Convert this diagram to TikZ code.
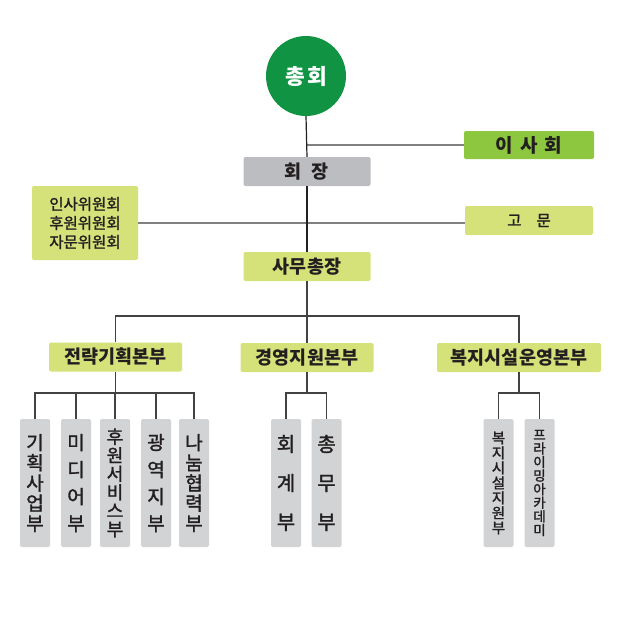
\documentclass[tikz,border=0pt]{standalone}
\usepackage{fontspec}
\setmainfont{Noto Sans CJK KR}
\newfontfamily\krmed{Noto Sans CJK KR}[FakeBold=1.6]
\definecolor{hqgreen}{RGB}{16,148,68}
\definecolor{boardgreen}{RGB}{141,198,63}
\definecolor{lightgreen}{RGB}{213,226,122}
\definecolor{headgray}{RGB}{188,189,192}
\definecolor{subgray}{RGB}{209,211,212}
\definecolor{inkblack}{RGB}{35,31,32}
\definecolor{linegray}{RGB}{128,128,128}

\begin{document}
\begin{tikzpicture}[x=1pt,y=1pt]
        \tikzstyle{every node}+=[inner sep=0pt, text=inkblack]
        \tikzset{
          topbox/.style={rounded corners=2pt, minimum height=29pt, font=\bfseries\fontsize{18.5}{20}\selectfont},
          subbox/.style={fill=subgray, rounded corners=2pt, minimum width=30pt, minimum height=128pt, align=center},
          spine/.style={draw=inkblack, line width=1.2pt},
          side/.style={draw=linegray, line width=1.8pt},
          tree/.style={draw=inkblack!85, line width=1.3pt}
        }
        \fill [white] (0,0) rectangle (624,-624);
        \useasboundingbox (0,0) rectangle (624,-624);
        % top
        \node [circle, fill=hqgreen, minimum size=80pt, text=white, font=\bfseries\fontsize{21.5}{24}\selectfont] (chonghoe) at (306,-76) {총\hspace{2pt}회};
        \node [topbox, fill=boardgreen, minimum width=130pt, minimum height=28pt, font=\bfseries\fontsize{19}{20}\selectfont] (isahoe) at (529,-145) {이\hspace{7pt}사\hspace{7pt}회};
        \node [topbox, fill=headgray, minimum width=127pt] (hoejang) at (307,-171.5) {회\hspace{10pt}장};
        \node [topbox, fill=lightgreen, minimum width=128pt, font=\krmed\fontsize{15.5}{16}\selectfont] (gomun) at (529,-220.5) {고\hspace{15pt}문};
        \node [fill=lightgreen, rounded corners=2pt, minimum width=106pt, minimum height=74pt, align=center, font=\krmed\fontsize{15.5}{19}\selectfont] (wiwon) at (85,-223) {인사위원회\\후원위원회\\자문위원회};
        \node [topbox, fill=lightgreen, minimum width=127pt] (samu) at (307,-266.5) {사무총장};
        % divisions
        \node [topbox, fill=lightgreen, minimum width=133pt] (jeollyak) at (115.5,-357) {전략기획본부};
        \node [topbox, fill=lightgreen, minimum width=133pt] (gyeongyeong) at (307,-357.5) {경영지원본부};
        \node [topbox, fill=lightgreen, minimum width=164pt] (bokji) at (519,-357.5) {복지시설운영본부};
        % departments
        \node [subbox, font=\krmed\fontsize{19}{20.2}\selectfont] (gihoek) at (35,-483) {기\\획\\사\\업\\부};
        \node [subbox, font=\krmed\fontsize{19}{27}\selectfont] (midia) at (76,-483) {미\\디\\어\\부};
        \node [subbox, font=\krmed\fontsize{18}{18.5}\selectfont] (huwon) at (115,-483) {후\\원\\서\\비\\스\\부};
        \node [subbox, font=\krmed\fontsize{19}{27}\selectfont] (gwangyeok) at (156,-483) {광\\역\\지\\부};
        \node [subbox, font=\krmed\fontsize{19}{20.2}\selectfont] (nanum) at (194,-483) {나\\눔\\협\\력\\부};
        \node [subbox, font=\krmed\fontsize{20}{39}\selectfont] (hoegye) at (286,-483) {회\\계\\부};
        \node [subbox, font=\krmed\fontsize{20}{39}\selectfont] (chongmu) at (326.5,-483) {총\\무\\부};
        \node [subbox, font=\krmed\fontsize{14.5}{15}\selectfont] (bokjisiseol) at (498.5,-483) {복\\지\\시\\설\\지\\원\\부};
        \node [subbox, font=\krmed\fontsize{13.5}{13.6}\selectfont] (priming) at (539.5,-483) {프\\라\\이\\밍\\아\\카\\데\\미};
        % connectors
        \draw [side] (isahoe.west) -- (isahoe.west -| chonghoe.south);
        \draw [side] (wiwon.east) -- (wiwon.east -| gomun.west);
        \draw [spine] (chonghoe.south) -- (hoejang.north);
        \draw [spine] (hoejang.south) -- (samu.north);
        \coordinate (bus) at (307,-316);
        \draw [tree] (samu.south) -- (bus);
        \draw [tree] (jeollyak.north) |- (bus) -| (bokji.north);
        \draw [tree] (bus) -- (gyeongyeong.north);
        \coordinate (jbus) at (115.5,-393);
        \draw [tree] (jeollyak.south) -- (jbus);
        \draw [tree] (gihoek.north) |- (jbus) -| (nanum.north);
        \foreach \d in {midia,huwon,gwangyeok} {\draw [tree] (\d.north) -- (\d.north |- jbus);}
        \coordinate (gbus) at (307,-393);
        \draw [tree] (gyeongyeong.south) -- (gbus);
        \draw [tree] (hoegye.north) |- (gbus) -| (chongmu.north);
        \coordinate (bbus) at (519,-393);
        \draw [tree] (bokji.south) -- (bbus);
        \draw [tree] (bokjisiseol.north) |- (bbus) -| (priming.north);
\end{tikzpicture}
\end{document}
